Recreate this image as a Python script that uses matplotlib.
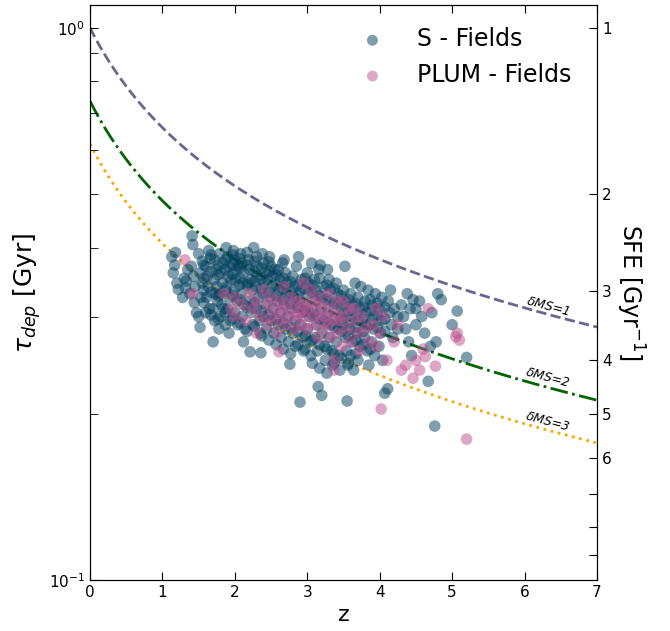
import numpy as np
import matplotlib
matplotlib.use("Agg")
import matplotlib.pyplot as plt
from matplotlib.ticker import NullLocator, NullFormatter

# ---------------- data ----------------
s_z = [1.13,1.15,1.17,1.20,1.22,1.18,
       1.30,1.32,1.28,1.35,1.33,
       1.41,1.42,1.40,1.43,1.45,1.38,1.44,1.47,
       1.52,1.50,1.53,1.55,1.52,1.55,1.50,1.57,
       1.60,1.62,1.63,1.61,1.65,1.64,1.66,1.60,
       1.70,1.72,1.70,1.73,1.71,1.74,1.72,1.75,1.76,
       1.78,1.80,1.82,1.80,1.83,1.81,1.84,1.79,1.85,
       1.88,1.90,1.92,1.91,1.89,1.93,1.90,1.94,1.92,1.95,
       1.98,2.00,2.02,2.01,1.99,2.03,2.00,2.04,2.05,2.06,
       2.08,2.10,2.12,2.11,2.09,2.13,2.10,2.14,2.12,
       2.19,2.21,2.20,2.22,2.24,2.21,2.23,2.25,2.26,2.18,
       2.30,2.32,2.31,2.29,2.33,2.30,2.34,2.35,2.36,
       2.40,2.42,2.41,2.39,2.43,2.40,2.44,2.45,2.38,
       2.50,2.52,2.51,2.49,2.53,2.50,2.54,2.55,2.48,
       2.60,2.62,2.61,2.59,2.63,2.60,2.64,2.66,
       2.70,2.72,2.71,2.69,2.73,2.70,2.76,2.74,2.68,
       2.80,2.82,2.81,2.79,2.83,2.80,2.84,2.85,
       2.90,2.92,2.91,2.89,2.93,2.90,2.94,2.95,2.88,
       3.00,3.02,3.01,2.99,3.03,3.00,3.04,3.05,3.06,
       3.10,3.12,3.11,3.09,3.13,3.10,3.14,3.15,3.16,
       3.20,3.22,3.21,3.19,3.23,3.20,3.24,3.25,3.18,
       3.30,3.32,3.31,3.29,3.33,3.30,3.34,3.35,3.28,
       3.40,3.42,3.41,3.39,3.43,3.40,3.44,3.45,
       3.52,3.50,3.52,3.51,3.49,3.53,3.55,3.54,3.56,
       3.60,3.62,3.61,3.59,3.63,3.60,3.64,3.66,
       3.70,3.72,3.71,3.69,3.73,3.70,3.74,
       3.80,3.82,3.81,3.79,3.83,3.84,3.85,
       3.90,3.92,3.91,3.89,3.93,3.94,
       4.00,4.02,4.01,3.99,4.03,4.07,4.11,4.04,
       4.12,4.14,4.16,4.18,4.20,4.15,
       4.30,4.33,4.36,4.40,4.42,4.46,4.44,4.38,
       4.55,4.58,4.62,4.67,4.70,4.76,4.72,4.80,4.85,4.78,
       5.07,5.20,5.00]
s_tau = [0.385,0.360,0.372,0.345,0.336,0.392,
         0.352,0.338,0.325,0.365,0.348,
         0.420,0.405,0.370,0.355,0.340,0.330,0.318,0.305,
         0.287,0.300,0.325,0.345,0.360,0.378,0.390,0.335,
         0.370,0.355,0.340,0.325,0.310,0.395,0.382,0.305,
         0.270,0.295,0.310,0.330,0.350,0.365,0.380,0.340,0.320,
         0.285,0.300,0.315,0.330,0.345,0.360,0.375,0.390,0.310,
         0.400,0.385,0.370,0.355,0.340,0.325,0.310,0.295,0.280,0.350,
         0.395,0.380,0.365,0.350,0.335,0.320,0.305,0.290,0.372,0.342,
         0.390,0.375,0.360,0.345,0.330,0.315,0.300,0.285,0.270,
         0.380,0.259,0.365,0.350,0.335,0.320,0.305,0.290,0.400,0.345,
         0.385,0.370,0.355,0.340,0.325,0.310,0.295,0.280,0.258,
         0.375,0.360,0.345,0.330,0.315,0.300,0.285,0.350,0.390,
         0.370,0.355,0.340,0.325,0.310,0.295,0.280,0.365,0.385,
         0.365,0.350,0.335,0.320,0.305,0.290,0.275,0.375,
         0.360,0.345,0.330,0.315,0.300,0.285,0.246,0.270,0.380,
         0.355,0.340,0.325,0.310,0.295,0.280,0.265,0.370,
         0.210,0.350,0.335,0.320,0.305,0.290,0.275,0.260,0.385,
         0.360,0.345,0.330,0.315,0.300,0.285,0.270,0.255,0.375,
         0.350,0.335,0.320,0.305,0.290,0.275,0.260,0.224,0.365,
         0.216,0.340,0.325,0.310,0.295,0.280,0.265,0.250,0.372,
         0.350,0.335,0.320,0.305,0.290,0.275,0.260,0.245,0.365,
         0.345,0.330,0.315,0.300,0.285,0.270,0.255,0.240,
         0.370,0.335,0.320,0.305,0.290,0.275,0.211,0.260,0.245,
         0.330,0.315,0.300,0.285,0.270,0.255,0.240,0.345,
         0.325,0.310,0.295,0.280,0.265,0.250,0.340,
         0.320,0.305,0.290,0.275,0.260,0.335,0.245,
         0.315,0.300,0.285,0.270,0.255,0.330,
         0.310,0.295,0.280,0.265,0.325,0.218,0.222,0.250,
         0.320,0.305,0.290,0.275,0.310,0.335,
         0.315,0.300,0.285,0.270,0.310,0.322,0.255,0.330,
         0.320,0.300,0.280,0.229,0.265,0.190,0.305,0.330,0.322,0.270,
         0.307,0.253,0.290]

# second S-Fields block (dense core)
s_z2 = [1.57,1.57,1.57,
        1.67,1.67,1.67,1.67,
        1.77,1.77,1.77,1.77,
        1.87,1.87,1.87,1.87,1.87,
        1.97,1.97,1.97,1.97,1.97,
        2.07,2.07,2.07,2.07,2.07,
        2.17,2.17,2.17,2.17,2.17,
        2.27,2.27,2.27,2.27,2.27,
        2.37,2.37,2.37,2.37,2.37,
        2.47,2.47,2.47,2.47,2.47,
        2.57,2.57,2.57,2.57,2.57,
        2.67,2.67,2.67,2.67,2.67,
        2.77,2.77,2.77,2.77,2.77,
        2.87,2.87,2.87,2.87,2.87,
        2.97,2.97,2.97,2.97,2.97,
        3.07,3.07,3.07,3.07,3.07,
        3.17,3.17,3.17,3.17,3.17,
        3.27,3.27,3.27,3.27,3.27,
        3.37,3.37,3.37,3.37,3.37,
        3.47,3.47,3.47,3.47,3.47,
        3.57,3.57,3.57,3.57,3.57,
        3.67,3.67,3.67,3.67,3.67,
        3.77,3.77,3.77,3.77,
        3.87,3.87,3.87,3.87,
        3.97,3.97,3.97,
        4.07,4.07,4.07,
        4.25,4.25,
        4.50,4.50]
s_tau2 = [0.352,0.318,0.372,
          0.362,0.332,0.302,0.388,
          0.357,0.327,0.297,0.372,
          0.365,0.335,0.305,0.290,0.380,
          0.388,0.358,0.328,0.298,0.372,
          0.382,0.352,0.322,0.292,0.368,
          0.372,0.342,0.312,0.282,0.392,
          0.378,0.348,0.318,0.288,0.362,
          0.367,0.337,0.307,0.277,0.352,
          0.362,0.332,0.302,0.272,0.377,
          0.357,0.327,0.297,0.267,0.342,
          0.352,0.322,0.292,0.262,0.337,
          0.347,0.317,0.287,0.257,0.332,
          0.342,0.312,0.282,0.267,0.327,
          0.337,0.307,0.277,0.262,0.352,
          0.332,0.302,0.272,0.247,0.342,
          0.327,0.297,0.267,0.242,0.352,
          0.322,0.292,0.262,0.237,0.342,
          0.317,0.287,0.257,0.247,0.337,
          0.312,0.282,0.252,0.327,0.297,
          0.307,0.277,0.247,0.322,0.292,
          0.302,0.272,0.317,0.287,0.257,
          0.297,0.267,0.312,0.282,
          0.292,0.262,0.307,0.322,
          0.287,0.302,0.317,
          0.297,0.282,0.312,
          0.300,0.285,
          0.310,0.290]

p_z = [1.31,1.42,1.85,2.00,2.10,2.20,2.25,2.30,2.35,2.40,2.45,2.50,2.50,2.55,2.60,
       2.61,2.62,2.65,2.70,2.70,2.75,2.78,2.80,2.82,2.85,2.88,2.90,2.92,2.95,2.97,
       3.00,3.00,3.05,3.08,3.10,3.12,3.15,3.18,3.20,3.22,3.25,3.28,3.30,3.32,3.35,
       3.37,3.37,3.40,3.42,3.45,3.48,3.50,3.55,3.58,3.60,3.65,3.70,3.72,3.75,3.80,
       3.85,3.90,3.95,4.00,4.02,4.05,4.10,4.20,4.25,4.30,4.36,4.46,4.50,4.55,4.67,
       4.63,4.60,4.77,5.07,5.10,5.05,5.20,3.30,3.05,2.45,2.58,2.30,2.00,2.15,3.15,
       3.50,3.65,3.95,2.68,2.95,3.40,1.95]
p_tau = [0.380,0.330,0.330,0.325,0.315,0.330,0.310,0.320,0.300,0.335,0.315,0.300,0.325,0.310,0.295,
         0.259,0.320,0.305,0.315,0.290,0.300,0.325,0.310,0.285,0.300,0.320,0.305,0.290,0.315,0.300,
         0.310,0.285,0.320,0.300,0.290,0.310,0.275,0.300,0.315,0.285,0.300,0.290,0.310,0.275,0.295,
         0.240,0.250,0.305,0.280,0.295,0.265,0.300,0.285,0.310,0.270,0.295,0.280,0.260,0.300,0.285,
         0.270,0.290,0.265,0.280,0.204,0.300,0.250,0.270,0.290,0.240,0.245,0.232,0.250,0.240,0.310,
         0.254,0.262,0.244,0.280,0.272,0.276,0.180,0.330,0.335,0.290,0.280,0.280,0.300,0.295,0.325,
         0.320,0.310,0.310,0.340,0.345,0.320,0.310]

# model lines: tau_dep = (1+z)^B * dMS^C
dms_values = [1, 2, 3]
z_slope_B = -0.6
dms_slope_C = -0.44
line_colors = ['#6a668e', 'darkgreen', 'orange']
line_styles = ['--', '-.', ':']

sfe_ticks = [1, 2, 3, 4, 5, 6, 7, 8, 9]
sfe_labels = ['1', '2', '3', '4', '5', '6', '', '', '']

# ---------------- plot ----------------
fig = plt.figure(figsize=(6.7, 6.31), dpi=100)
ax = fig.add_axes([0.1343, 0.0808, 0.7567, 0.9112])

zz = np.linspace(0, 7, 300)
for d, c, ls in zip(dms_values, line_colors, line_styles):
    ax.plot(zz, (1 + zz) ** z_slope_B * d ** dms_slope_C, color=c, ls=ls, lw=2, zorder=1)

ax.scatter(s_z + s_z2, s_tau + s_tau2, s=70, color='#003f5c', alpha=0.5,
           edgecolors='none', label='S - Fields', zorder=2)
ax.scatter(p_z, p_tau, s=70, color='#bc5090', alpha=0.5, edgecolors='none',
           label='PLUM - Fields', zorder=3)

label_z = 6.32
for d, dy in zip(dms_values, [1.035, 1.04, 1.035]):
    yv = (1 + label_z) ** z_slope_B * d ** dms_slope_C * dy
    ax.text(label_z, yv, r'$\delta MS$=' + str(d), rotation=-15, fontsize=9,
            ha='center', va='center', style='italic', rotation_mode='anchor')

ax.set_yscale('log')
ax.set_xlim(0, 7)
ax.set_ylim(0.1, 1.1)
ax.set_xlabel('z', fontsize=16)
ax.set_ylabel(r'$\tau_{dep}$ [Gyr]', fontsize=18)
ax.tick_params(which='both', direction='in', top=True, right=False, length=5.5,
               labelsize=11)
ax.yaxis.set_minor_formatter(NullFormatter())

leg = ax.legend(loc='upper right', bbox_to_anchor=(0.992, 0.998), frameon=False,
                fontsize=17, handletextpad=0.9, labelspacing=0.5)
for h in leg.legend_handles:
    h.set_sizes([62])

ax2 = ax.twinx()
ax2.set_yscale('log')
ax2.set_ylim(0.1, 1.1)
ax2.set_yticks([1.0 / s for s in sfe_ticks])
ax2.set_yticklabels(sfe_labels)
ax2.yaxis.set_minor_locator(NullLocator())
ax2.tick_params(direction='in', length=5.5, labelsize=11)
ax2.set_ylabel(r'SFE [Gyr$^{-1}$]', fontsize=17, rotation=270, labelpad=25)

fig.savefig('out.png', dpi=100)
